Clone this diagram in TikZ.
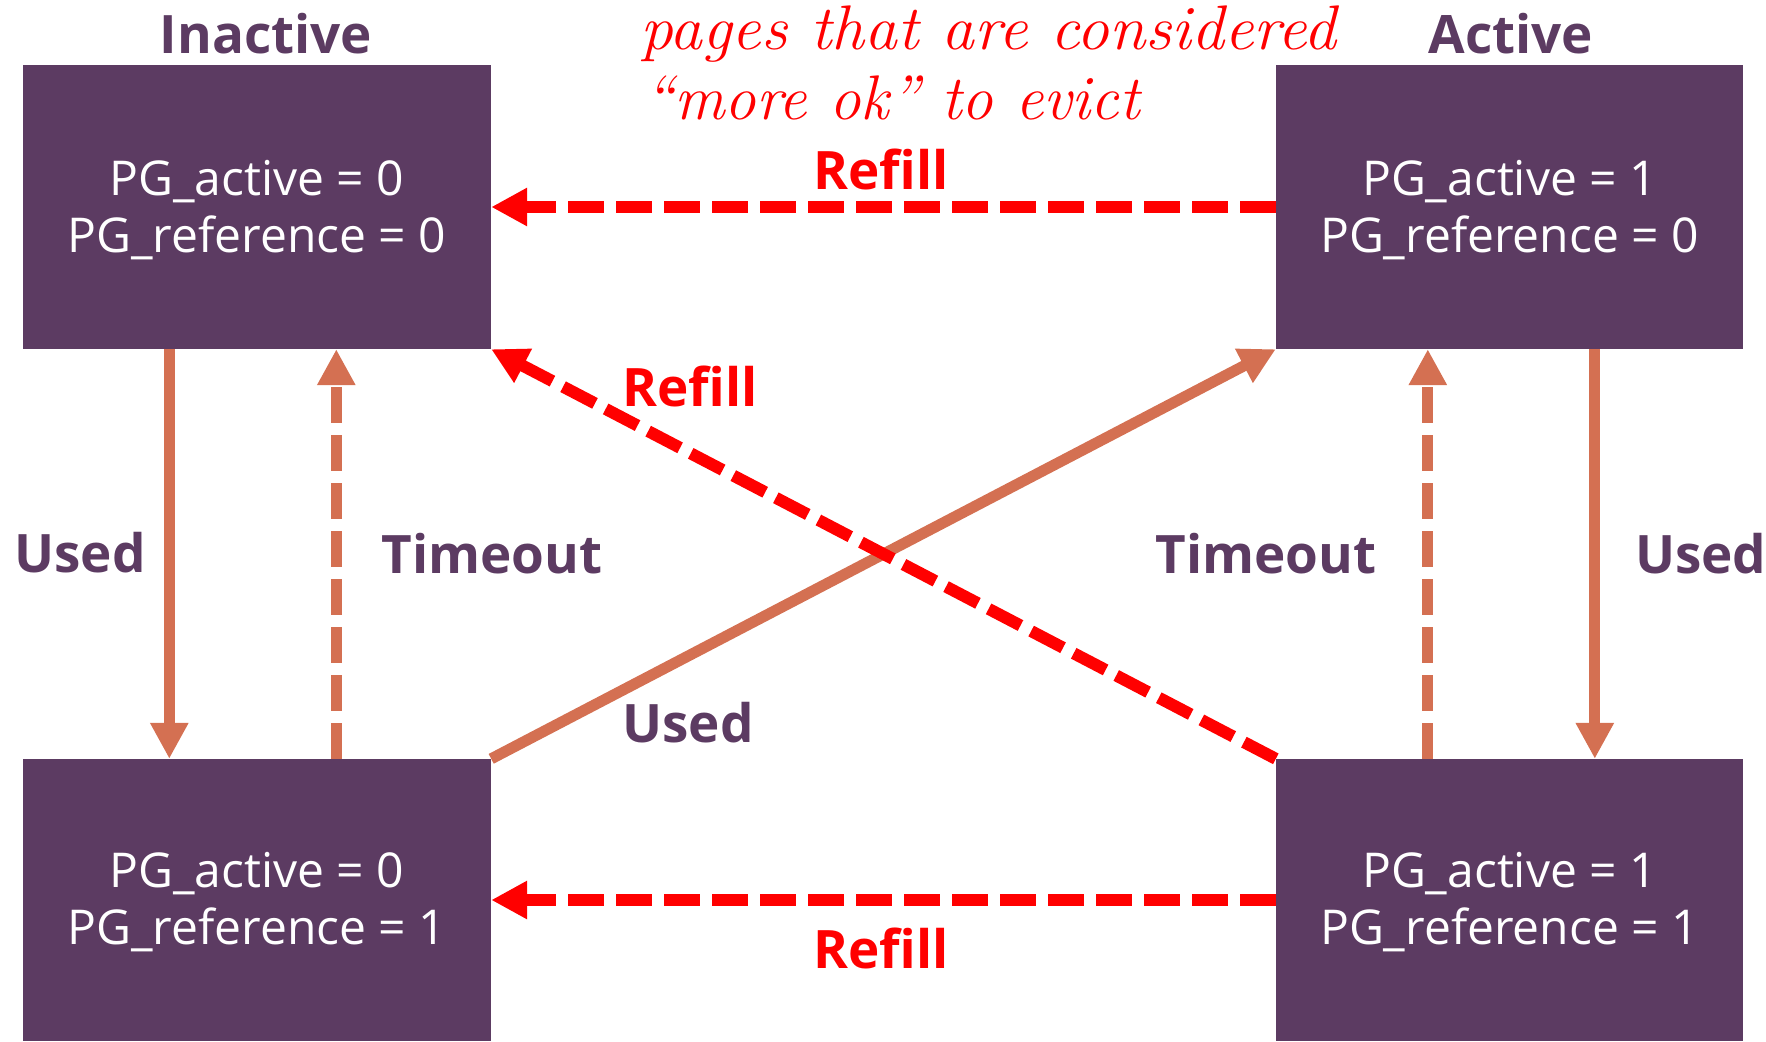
\documentclass[tikz,border=0pt]{standalone}
\usepackage{fontspec}
\newfontfamily\osans{Open Sans}
\usetikzlibrary{arrows.meta}
\definecolor{statefill}{HTML}{5C3B62}
\definecolor{flow}{HTML}{D47052}
\definecolor{refill}{HTML}{FF0000}

\begin{document}
\begin{tikzpicture}[x=1pt,y=-1pt,
  state/.style={rectangle, fill=statefill, inner sep=0pt,
    minimum width=468pt},
  statetext/.style={text=white, inner sep=0pt, align=center,
    font=\osans\fontsize{48}{57}\selectfont},
  heading/.style={anchor=base, text=statefill, inner sep=0pt,
    font=\osans\bfseries\fontsize{53}{60}\selectfont},
  lbl/.style={heading},
  rlbl/.style={heading, text=refill},
  usedarrow/.style={draw=flow, line width=11pt,
    -{Triangle[length=36pt,width=36pt]}},
  timeoutarrow/.style={usedarrow, dash pattern=on 36pt off 12pt},
  refillarrow/.style={draw=refill, line width=12pt,
    dash pattern=on 36pt off 12pt, -{Triangle[length=36pt,width=36pt]}},
  note/.style={anchor=base west, text=refill, inner sep=0pt,
    font=\itshape\fontsize{63}{70}\selectfont},
]
\useasboundingbox (0,0) rectangle (1766,1041);

% the four page states
\node[state, minimum height=284pt] (TL) at (257,207) {};
\node[state, minimum height=284pt, minimum width=467pt] (TR) at (1509.5,207) {};
\node[state, minimum height=282pt] (BL) at (257,900) {};
\node[state, minimum height=282pt, minimum width=467pt] (BR) at (1509.5,900) {};

\node[statetext] (TLtext) at ([yshift=-3pt]TL.center) {PG\_active = 0\\PG\_reference = 0};
\node[statetext] (TRtext) at ([yshift=-3pt]TR.center) {PG\_active = 1\\PG\_reference = 0};
\node[statetext] (BLtext) at ([yshift=-2pt]BL.center) {PG\_active = 0\\PG\_reference = 1};
\node[statetext] (BRtext) at ([yshift=-2pt]BR.center) {PG\_active = 1\\PG\_reference = 1};

% list headings
\node[heading] (hInactive) at (266,53) {Inactive};
\node[heading] (hActive) at (1511,53) {Active};

% annotation
\node[note] (note1) at (640,49) {\scalebox{1.04}[1]{pages that are considered}};
\node[note] (note2) at (644,119) {“more ok” to evict};

% transitions
\draw[usedarrow] ([xshift=146.5pt]TL.south west) -- ([xshift=146.5pt]BL.north west);
\draw[timeoutarrow] ([xshift=313.5pt]BL.north west) -- ([xshift=313.5pt]TL.south west);
\draw[usedarrow] ([xshift=319pt]TR.south west) -- ([xshift=319pt]BR.north west);
\draw[timeoutarrow] ([xshift=152pt]BR.north west) -- ([xshift=152pt]TR.south west);
\draw[usedarrow] (BL.north east) -- (TR.south west);
\draw[refillarrow] (BR.north west) -- (TL.south east);
\draw[refillarrow] (TR.west) -- (TL.east);
\draw[refillarrow] (BR.west) -- (BL.east);

% transition labels
\node[lbl] (uL) at (80,572) {Used};
\node[lbl] (tL) at (492,573) {Timeout};
\node[lbl] (tR) at (1266,573) {Timeout};
\node[lbl, anchor=base west] (uR) at (1635,573) {Used};
\node[lbl] (uX) at (688,742) {Used};
\node[rlbl] (rX) at (690,406) {Refill};
\node[rlbl] (rT) at (881,189) {Refill};
\node[rlbl] (rB) at (881,968) {Refill};
\end{tikzpicture}
\end{document}
